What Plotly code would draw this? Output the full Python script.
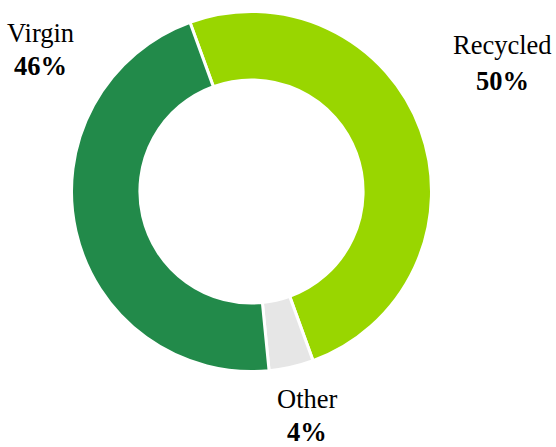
import plotly.graph_objects as go

categories = ["Recycled", "Other", "Virgin"]
values = [50, 4, 46]
colors = ["#99D600", "#E6E6E6", "#228A4A"]
label_pct = ["50%", "4%", "46%"]

W, H = 556, 447
cx, cy, r = 251.5, 191.5, 180

fig = go.Figure(go.Pie(
    labels=categories, values=values, sort=False, direction="clockwise",
    rotation=-20, hole=0.62, textinfo="none", hoverinfo="label+percent",
    marker=dict(colors=colors, line=dict(color="white", width=3)),
    domain=dict(x=[(cx - r) / W, (cx + r) / W], y=[(H - cy - r) / H, (H - cy + r) / H]),
    showlegend=False,
))

font = "Times New Roman, Liberation Serif, serif"
label_pos = {  # (x center px, name center px, pct center px)
    "Recycled": (502, 45, 81),
    "Other": (307, 399, 432),
    "Virgin": (40, 33, 66),
}
anns = []
for cat, pct in zip(categories, label_pct):
    x, y1, y2 = label_pos[cat]
    anns.append(dict(x=x / W, y=1 - y1 / H, xref="paper", yref="paper", text=cat,
                     showarrow=False, xanchor="center", yanchor="middle",
                     font=dict(family=font, size=26.5, color="black")))
    anns.append(dict(x=x / W, y=1 - y2 / H, xref="paper", yref="paper", text=pct,
                     showarrow=False, xanchor="center", yanchor="middle",
                     font=dict(family=font, size=26.5, color="black", weight="bold")))

fig.update_layout(width=W, height=H, margin=dict(l=0, r=0, t=0, b=0),
                  paper_bgcolor="white", plot_bgcolor="white", annotations=anns)
fig.write_html("out.html", config={"displayModeBar": False},
               post_script="document.body.style.margin='0';document.body.style.overflow='hidden';")
